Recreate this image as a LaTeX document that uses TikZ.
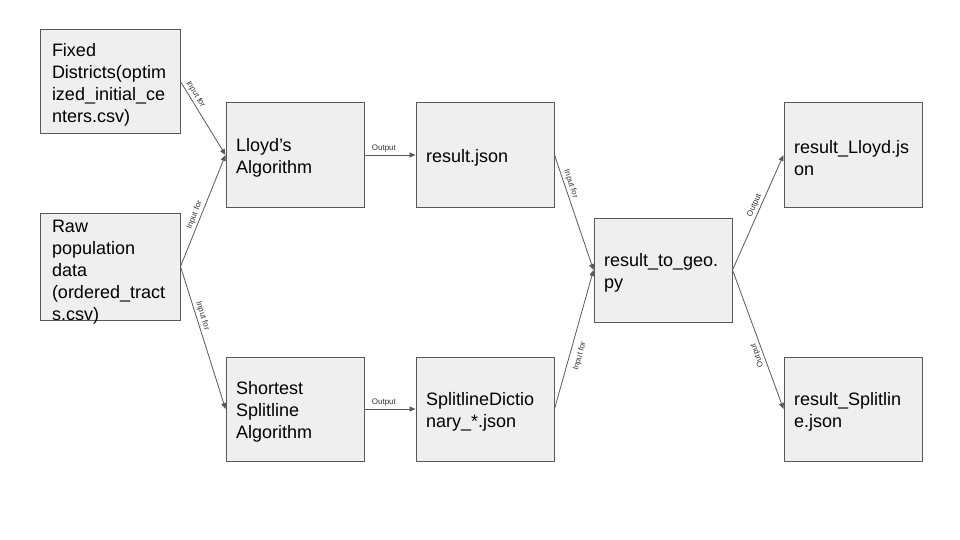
\documentclass[tikz,border=0pt]{standalone}
\usepackage{fontspec}
\setmainfont{Liberation Sans}
\usetikzlibrary{arrows.meta,positioning}

\definecolor{boxfill}{HTML}{EFEFEF}
\definecolor{linegray}{HTML}{595959}

\begin{document}
\begin{tikzpicture}[x=1pt,y=-1pt,
    box/.style={draw=linegray, fill=boxfill, line width=1pt, minimum width=138pt, minimum height=104pt,
        text width=118pt, inner xsep=10pt, inner ysep=0pt, align=left, font=\fontsize{18}{22}\selectfont,
        execute at begin node={\rule{0pt}{19pt}}},
    flow/.style={draw=linegray, line width=0.8pt, -{Triangle[length=6pt,width=5pt]}},
    lbl/.style={font=\fontsize{8}{9}\selectfont, text=black!80, sloped, inner sep=2pt}]
    \useasboundingbox (0,0) rectangle (960,540);

    \node[box, minimum width=140pt, text width=116pt, inner xsep=12pt] (fixed) at (110,81.5) {Fixed\\Districts(optim\\ized\_initial\_ce\\nters.csv)};
    \node[box, minimum width=140pt, text height=19pt, text depth=88pt, inner xsep=12pt, text width=116pt] (raw) at (110,266.5) {Raw\\population\\data\\(ordered\_tract\\s.csv)};
    \node[box] (lloyd) at (295,155) {Lloyd's\\Algorithm};
    \node[box] (split) at (295,409) {Shortest\\Splitline\\Algorithm};
    \node[box] (resjson) at (485,155) {result.json};
    \node[box] (dict) at (485,409) {SplitlineDictio\\nary\_*.json};
    \node[box] (geo) at (663,270) {result\_to\_geo.\\py};
    \node[box] (reslloyd) at (853,155) {result\_Lloyd.js\\on};
    \node[box] (ressplit) at (853,409) {result\_Splitlin\\e.json};

    \draw[flow] (fixed.east) -- node[lbl, pos=0.22, above] {Input for} (lloyd.west);
    \draw[flow] (raw.east) -- node[lbl, pos=0.44, above] {Input for} (lloyd.west);
    \draw[flow] (raw.east) -- node[lbl, pos=0.36, above] {Input for} (split.west);
    \draw[flow] (lloyd.east) -- node[lbl, pos=0.38, above] {Output} (resjson.west);
    \draw[flow] (split.east) -- node[lbl, pos=0.38, above] {Output} (dict.west);
    \draw[flow] (resjson.east) -- node[lbl, pos=0.27, above] {Input for} (geo.west);
    \draw[flow] (dict.east) -- node[lbl, pos=0.4, below=4pt] {Input for} (geo.west);
    \draw[flow] (geo.east) -- node[lbl, pos=0.54, above] {Output} (reslloyd.west);
    \draw[flow] (geo.east) -- node[lbl, pos=0.6, above, rotate=180] {Output} (ressplit.west);
\end{tikzpicture}
\end{document}
